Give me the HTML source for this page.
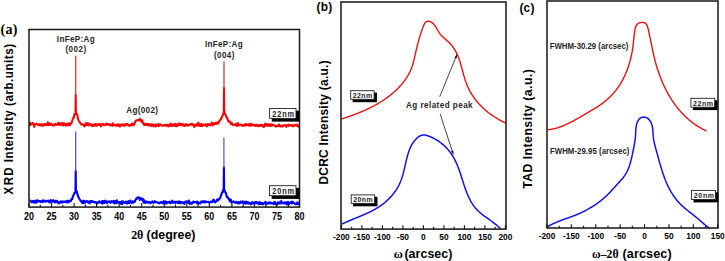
<!DOCTYPE html>
<html><head><meta charset="utf-8"><title>figure</title>
<style>
html,body{margin:0;padding:0;background:#fff;}
body{width:725px;height:261px;overflow:hidden;font-family:"Liberation Sans",sans-serif;}
svg{display:block;}
</style></head><body>
<svg width="725" height="261" viewBox="0 0 725 261">
<rect width="725" height="261" fill="#fff"/>
<polyline points="29.8,125.93 30.3,122.49 30.8,124.72 31.3,123.98 31.8,124.07 32.3,124.25 32.8,122.9 33.3,124.24 33.8,123.77 34.3,126.91 34.8,124.59 35.3,124.16 35.8,124.21 36.3,123.93 36.8,123.64 37.3,124.14 37.8,124.79 38.3,124.26 38.8,125.15 39.3,124.29 39.8,124.46 40.3,125.6 40.8,124.85 41.3,124.07 41.8,124.31 42.3,124.86 42.8,125.9 43.3,124.25 43.8,124.27 44.3,125.21 44.8,123.8 45.3,124.24 45.8,125.13 46.3,124.9 46.8,124.54 47.3,124.97 47.8,122.35 48.3,125.24 48.8,123.76 49.3,123.23 49.8,124.69 50.3,125.01 50.8,124.15 51.3,123.68 51.8,124.51 52.3,124.45 52.8,125.55 53.3,125.06 53.8,124.64 54.3,125.33 54.8,124.35 55.3,123.81 55.8,124.94 56.3,124.94 56.8,124.35 57.3,123.92 57.8,124.68 58.3,122.64 58.8,125.03 59.3,124.89 59.8,123.29 60.3,124.57 60.8,123.8 61.3,125.09 61.8,123 62.3,123.84 62.8,125.06 63.3,125.4 63.8,122.92 64.3,124.17 64.8,124.79 65.3,124.09 65.8,125.74 66.3,123.65 66.8,124.81 67.3,123.75 67.8,125.58 68.3,124.48 68.8,124.16 69.3,123.04 69.8,125.41 70.3,124.43 70.8,123.99 71.3,123.66 71.8,122.22 72.3,120.4 72.8,119 73.3,117.59 73.8,117.78 74.3,114.34 74.8,113.94 75.3,113.51 75.45,113.76 75.7,95 75.95,113.76 76.3,114.39 76.8,113.84 77.3,114.66 77.8,117.34 78.3,119.7 78.8,120.73 79.3,121.53 79.8,122.12 80.3,123.33 80.8,123.48 81.3,124.65 81.8,123.69 82.3,124.53 82.8,124.44 83.3,124.98 83.8,124.76 84.3,126.52 84.8,125.74 85.3,125.74 85.8,123.09 86.3,124.37 86.8,124.17 87.3,125.03 87.8,122.92 88.3,125.52 88.8,125.44 89.3,123.66 89.8,123.91 90.3,124.04 90.8,124.68 91.3,125.13 91.8,126.18 92.3,124.5 92.8,125.23 93.3,124.77 93.8,125.98 94.3,125.21 94.8,125.69 95.3,123.85 95.8,124.52 96.3,124.06 96.8,125.8 97.3,125.16 97.8,124.44 98.3,124.33 98.8,125.04 99.3,124.15 99.8,123.98 100.3,125.04 100.8,126.53 101.3,124.5 101.8,124.27 102.3,123.81 102.8,123.69 103.3,125.09 103.8,125.33 104.3,124.7 104.8,124.95 105.3,124.79 105.8,124.81 106.3,123.56 106.8,124.36 107.3,124.79 107.8,124.12 108.3,124.36 108.8,124.1 109.3,124.47 109.8,125.36 110.3,124.42 110.8,124.61 111.3,125.34 111.8,125.21 112.3,126 112.8,123.16 113.3,125.38 113.8,124.37 114.3,124.84 114.8,125.37 115.3,125.55 115.8,125.52 116.3,124.86 116.8,125.95 117.3,124.54 117.8,124.64 118.3,125.35 118.8,124.34 119.3,126.38 119.8,125.52 120.3,126.39 120.8,124.74 121.3,124.48 121.8,124.89 122.3,125.32 122.8,124.33 123.3,125.06 123.8,124.76 124.3,125.99 124.8,124.28 125.3,125.56 125.8,124.3 126.3,124.06 126.8,124.25 127.3,123.89 127.8,124.9 128.3,125.56 128.8,124.92 129.3,125.26 129.8,126.02 130.3,125 130.8,124.95 131.3,124.6 131.8,123.6 132.3,125.37 132.8,123.48 133.3,125.2 133.8,124.39 134.3,124.56 134.8,122.71 135.3,121.19 135.8,121.35 136.3,120.22 136.8,120.3 137.3,120.38 137.8,120.23 138.3,120.19 138.8,119.71 139.3,120.19 139.8,118.73 140.3,120.24 140.8,119.55 141.3,121.5 141.8,122.06 142.3,120.37 142.8,122.9 143.3,123.65 143.8,123.65 144.3,125.15 144.8,124.49 145.3,123.53 145.8,124.65 146.3,124.75 146.8,124.94 147.3,123.94 147.8,125.32 148.3,125.42 148.8,124.01 149.3,124.37 149.8,124.81 150.3,124.45 150.8,126.18 151.3,125.03 151.8,124.12 152.3,124.29 152.8,124.84 153.3,126.6 153.8,124.75 154.3,124.98 154.8,125.27 155.3,124.86 155.8,126.6 156.3,124.49 156.8,125.45 157.3,125.01 157.8,125.36 158.3,124.01 158.8,126.22 159.3,124.81 159.8,124.93 160.3,124.2 160.8,124.36 161.3,125.33 161.8,125.65 162.3,125.47 162.8,125.82 163.3,125.45 163.8,124.94 164.3,125.54 164.8,125.36 165.3,124.84 165.8,125.46 166.3,125.89 166.8,125.1 167.3,124.66 167.8,125.46 168.3,126.35 168.8,124.77 169.3,124.86 169.8,124.83 170.3,125.85 170.8,123.55 171.3,125.21 171.8,125.83 172.3,124.33 172.8,126.05 173.3,125.34 173.8,124.53 174.3,125.09 174.8,123.79 175.3,124.52 175.8,126.31 176.3,124.27 176.8,126.33 177.3,124.89 177.8,125.69 178.3,124.98 178.8,123.27 179.3,124.52 179.8,125.09 180.3,124.09 180.8,123.94 181.3,125.23 181.8,124.46 182.3,123.68 182.8,124.44 183.3,125.6 183.8,124.6 184.3,125.65 184.8,126.1 185.3,124.98 185.8,124.11 186.3,123.98 186.8,124.93 187.3,125.61 187.8,125.15 188.3,125.36 188.8,124.62 189.3,125.17 189.8,124.6 190.3,124.7 190.8,123.98 191.3,123.77 191.8,124.58 192.3,124.11 192.8,124.22 193.3,125.44 193.8,124.86 194.3,127.12 194.8,125.63 195.3,124.45 195.8,125.51 196.3,125.19 196.8,124.4 197.3,125.74 197.8,124.33 198.3,122.61 198.8,125.49 199.3,124.43 199.8,126 200.3,124.39 200.8,123.99 201.3,126.03 201.8,124.05 202.3,125 202.8,125.92 203.3,124.91 203.8,124.75 204.3,124.88 204.8,125.42 205.3,124.17 205.8,125.21 206.3,125.17 206.8,126.47 207.3,124.44 207.8,123.99 208.3,125.2 208.8,124.32 209.3,124.8 209.8,124.65 210.3,125.39 210.8,123.98 211.3,124.35 211.8,122.45 212.3,123.64 212.8,125.39 213.3,123.65 213.8,123.55 214.3,123.06 214.8,124.29 215.3,123.86 215.8,122.68 216.3,123.89 216.8,123.37 217.3,123.49 217.8,122.15 218.3,123.58 218.8,122.17 219.3,121.26 219.8,120.34 220.3,119.8 220.8,119.73 221.3,117.82 221.8,117.61 222.3,115.9 222.8,115.14 223.3,113.61 223.8,112.27 223.75,110.82 224,88 224.25,110.82 224.8,113.05 225.3,114.48 225.8,115.33 226.3,116.97 226.8,117.46 227.3,118.63 227.8,119.14 228.3,121.65 228.8,121.39 229.3,121.44 229.8,121.25 230.3,122.5 230.8,124.01 231.3,123.54 231.8,122.87 232.3,124.67 232.8,124.84 233.3,124.64 233.8,124.62 234.3,125 234.8,124.64 235.3,124.9 235.8,123.8 236.3,125.58 236.8,124.69 237.3,126.09 237.8,123.08 238.3,125.19 238.8,125.44 239.3,124.48 239.8,125.11 240.3,125.36 240.8,125.26 241.3,124.45 241.8,124.77 242.3,125.67 242.8,125.88 243.3,125.02 243.8,125.02 244.3,125.13 244.8,125.77 245.3,124.22 245.8,124.02 246.3,125.13 246.8,124.22 247.3,124.62 247.8,125.14 248.3,125.44 248.8,124.29 249.3,125.7 249.8,123.78 250.3,125.53 250.8,123.95 251.3,124.18 251.8,125.63 252.3,124.85 252.8,124.56 253.3,124.83 253.8,125.52 254.3,125.14 254.8,125.16 255.3,125.98 255.8,124.66 256.3,124.85 256.8,124.82 257.3,126.09 257.8,125.96 258.3,126.19 258.8,125.21 259.3,125.12 259.8,125.88 260.3,124.95 260.8,125.87 261.3,125.8 261.8,124.74 262.3,125.2 262.8,125.18 263.3,126.57 263.8,127.22 264.3,125.21 264.8,125.29 265.3,123.58 265.8,125.45 266.3,125.29 266.8,124.49 267.3,125.89 267.8,124.13 268.3,125.15 268.8,125.42 269.3,124.38 269.8,125.96 270.3,126.11 270.8,124.29 271.3,124.27 271.8,125.78 272.3,125.31 272.8,124.43 273.3,125.12 273.8,125.26 274.3,125.24 274.8,125.97 275.3,125.64 275.8,126.68 276.3,126.39 276.8,125.87 277.3,126.17 277.8,126.36 278.3,125.9 278.8,124.45 279.3,126.02 279.8,125.43 280.3,126.6 280.8,125.46 281.3,125.78 281.8,125.64 282.3,126.65 282.8,125.53 283.3,125.2 283.8,125.63 284.3,125.07 284.8,125.53 285.3,125.4 285.8,125.62 286.3,126.86 286.8,125.11 287.3,125.45 287.8,125.27 288.3,125.93 288.8,124.54 289.3,124.91 289.8,125.4 290.3,125.84 290.8,125.4 291.3,125.06 291.8,124.79 292.3,125.83 292.8,126.53 293.3,125.69 293.8,125.59 294.3,125.79 294.8,124.75 295.3,125.22 295.8,125.26 296.3,125.68 296.8,125.44 297.3,124.56 297.8,126.31 298.3,126.74 298.8,125.28" fill="none" stroke="#ff0000" stroke-width="2.0" stroke-linejoin="round"/>
<polyline points="29.8,200.9 30.3,200.51 30.8,201.32 31.3,201.83 31.8,202.37 32.3,201.6 32.8,201.11 33.3,200.94 33.8,202.09 34.3,202.76 34.8,201.74 35.3,200.61 35.8,200.82 36.3,202.75 36.8,201.7 37.3,200.25 37.8,201.49 38.3,200.69 38.8,201.09 39.3,201.2 39.8,201.03 40.3,201.99 40.8,201.53 41.3,201.14 41.8,201.89 42.3,202.21 42.8,200.36 43.3,201.4 43.8,200.86 44.3,201.47 44.8,200.63 45.3,201.62 45.8,201.58 46.3,201.38 46.8,200.83 47.3,201.32 47.8,200.8 48.3,200.61 48.8,201.8 49.3,200.8 49.8,202.51 50.3,202.18 50.8,200.14 51.3,201.85 51.8,200.82 52.3,201.68 52.8,201.69 53.3,200.17 53.8,201.49 54.3,201.47 54.8,202.39 55.3,200.78 55.8,202.23 56.3,200.85 56.8,201.43 57.3,201.05 57.8,202.77 58.3,202.12 58.8,203.52 59.3,202.18 59.8,202.33 60.3,202.33 60.8,201.25 61.3,201.66 61.8,202.73 62.3,201.42 62.8,201.86 63.3,201.71 63.8,202.18 64.3,201.46 64.8,201.62 65.3,201.92 65.8,201.82 66.3,201.09 66.8,202.42 67.3,200.77 67.8,200.84 68.3,200.76 68.8,202.41 69.3,201.34 69.8,200.76 70.3,200.41 70.8,201.23 71.3,199.59 71.8,198.69 72.3,199.12 72.8,196.57 73.3,195.87 73.8,194.69 74.3,193.05 74.8,192.29 75.3,192.68 75.45,191.13 75.7,171 75.95,191.13 76.3,190.94 76.8,191.35 77.3,193.76 77.8,195.02 78.3,196.9 78.8,197.66 79.3,198.77 79.8,199.48 80.3,200.29 80.8,201.26 81.3,201.15 81.8,201.7 82.3,203.16 82.8,202.15 83.3,200.65 83.8,203.15 84.3,202.12 84.8,201.16 85.3,202.55 85.8,201.88 86.3,201.41 86.8,201.4 87.3,201.14 87.8,201.92 88.3,202.69 88.8,201.65 89.3,202.21 89.8,203.3 90.3,200.99 90.8,202.1 91.3,201.68 91.8,201.12 92.3,201.14 92.8,201.91 93.3,202.25 93.8,201.53 94.3,201.97 94.8,202.47 95.3,202.16 95.8,202.59 96.3,202.29 96.8,202.31 97.3,203.32 97.8,202.42 98.3,202.05 98.8,202.49 99.3,201.27 99.8,201.71 100.3,202.56 100.8,202.44 101.3,203.13 101.8,201.98 102.3,200.88 102.8,203.44 103.3,202.81 103.8,201.2 104.3,203.02 104.8,202.02 105.3,200.64 105.8,201.69 106.3,201.62 106.8,203.2 107.3,201.42 107.8,201.83 108.3,201.81 108.8,201.74 109.3,201.34 109.8,202.19 110.3,202.84 110.8,202.5 111.3,201.34 111.8,201.18 112.3,202.13 112.8,201.52 113.3,201.58 113.8,200.79 114.3,203.52 114.8,202.75 115.3,201.33 115.8,202.75 116.3,203.08 116.8,200.28 117.3,201.67 117.8,201.79 118.3,202.57 118.8,202 119.3,201.92 119.8,202.05 120.3,203.49 120.8,203.72 121.3,201.71 121.8,201.41 122.3,204.13 122.8,201.38 123.3,201.69 123.8,202.15 124.3,202.48 124.8,202.9 125.3,202.42 125.8,201.48 126.3,202.51 126.8,202.33 127.3,203.55 127.8,202.13 128.3,201.14 128.8,201.37 129.3,203.24 129.8,201.75 130.3,200.58 130.8,201.73 131.3,202.17 131.8,203.06 132.3,201.41 132.8,202.67 133.3,202.72 133.8,201.36 134.3,201.15 134.8,201.7 135.3,200.69 135.8,199.27 136.3,198.4 136.8,198.77 137.3,197.73 137.8,197.74 138.3,197.17 138.8,197.82 139.3,197.76 139.8,199.9 140.3,197.71 140.8,198.9 141.3,199.18 141.8,198.53 142.3,200.32 142.8,198.79 143.3,201.42 143.8,202.59 144.3,200.39 144.8,201.38 145.3,203.05 145.8,202.06 146.3,201.44 146.8,201.98 147.3,201.86 147.8,202.81 148.3,202.61 148.8,202.07 149.3,201.78 149.8,202.24 150.3,203.28 150.8,202.55 151.3,202.77 151.8,202.18 152.3,201.33 152.8,201.77 153.3,202.79 153.8,202.38 154.3,201.63 154.8,201.1 155.3,202.4 155.8,202.06 156.3,202.06 156.8,202.08 157.3,202.54 157.8,202.55 158.3,203.05 158.8,203.03 159.3,203.34 159.8,202.95 160.3,202.09 160.8,202.31 161.3,202.72 161.8,202.12 162.3,202.77 162.8,203.22 163.3,201.76 163.8,201.04 164.3,203.26 164.8,202.38 165.3,202.9 165.8,201.38 166.3,203.68 166.8,202.93 167.3,202.29 167.8,202.12 168.3,202.47 168.8,202.27 169.3,202.18 169.8,201.56 170.3,203.35 170.8,202.37 171.3,202.46 171.8,202.48 172.3,200.64 172.8,202.81 173.3,202.17 173.8,202.2 174.3,202.47 174.8,201.69 175.3,203.05 175.8,201.9 176.3,201.75 176.8,201.78 177.3,202.55 177.8,202.99 178.3,201.99 178.8,201.3 179.3,203.24 179.8,201.64 180.3,203.34 180.8,202.4 181.3,201.92 181.8,201.97 182.3,202.8 182.8,203.12 183.3,202.3 183.8,203.17 184.3,204.02 184.8,202.3 185.3,201.6 185.8,201.67 186.3,201.42 186.8,201.98 187.3,201.92 187.8,201.47 188.3,202.86 188.8,200.51 189.3,201.48 189.8,203.98 190.3,203.24 190.8,202.86 191.3,202.81 191.8,203.79 192.3,202.87 192.8,202.52 193.3,201.54 193.8,202.41 194.3,201.91 194.8,201.93 195.3,201.92 195.8,202.42 196.3,202.21 196.8,203.11 197.3,201.46 197.8,202.32 198.3,203.84 198.8,202.47 199.3,203.33 199.8,203.28 200.3,203.41 200.8,202.97 201.3,201.38 201.8,202.21 202.3,202.11 202.8,201.23 203.3,202.03 203.8,201.43 204.3,201.11 204.8,202.5 205.3,202.3 205.8,201.8 206.3,201.59 206.8,201.87 207.3,201.96 207.8,201.93 208.3,202.17 208.8,201.86 209.3,202.44 209.8,202.51 210.3,202.35 210.8,201.54 211.3,201.53 211.8,202.26 212.3,201.73 212.8,201.77 213.3,199.86 213.8,199.61 214.3,201.78 214.8,201.66 215.3,202.32 215.8,201.66 216.3,201.09 216.8,200.72 217.3,199.37 217.8,200.79 218.3,199.3 218.8,199.67 219.3,198.89 219.8,198.27 220.3,197.91 220.8,195.88 221.3,194.78 221.8,193.08 222.3,191.99 222.8,192.14 223.3,189.54 223.8,190.2 223.65,190.15 223.9,167 224.15,190.15 224.8,190.96 225.3,192.32 225.8,192.41 226.3,194.86 226.8,197.03 227.3,196.39 227.8,197.77 228.3,198.03 228.8,199.39 229.3,198.84 229.8,201.27 230.3,200.12 230.8,199.54 231.3,202.28 231.8,201.88 232.3,201.71 232.8,201.88 233.3,201.34 233.8,201.56 234.3,202.37 234.8,202.61 235.3,202.7 235.8,202.23 236.3,201.78 236.8,202.05 237.3,203.07 237.8,203.37 238.3,202.08 238.8,202.01 239.3,203.34 239.8,202.98 240.3,202.99 240.8,201.51 241.3,202.24 241.8,202.16 242.3,202.73 242.8,201.33 243.3,203.56 243.8,202.85 244.3,202.97 244.8,201.78 245.3,202.66 245.8,203.69 246.3,201.53 246.8,202.95 247.3,203.26 247.8,202.23 248.3,203.37 248.8,202.52 249.3,203.7 249.8,203.19 250.3,202.97 250.8,204.32 251.3,203.44 251.8,203.81 252.3,201.94 252.8,202.36 253.3,203.48 253.8,203.54 254.3,202.83 254.8,203.46 255.3,202.09 255.8,203.05 256.3,202.04 256.8,203.16 257.3,202.55 257.8,202.44 258.3,202.97 258.8,204.29 259.3,202.18 259.8,202.49 260.3,203.75 260.8,202.64 261.3,204.29 261.8,203.13 262.3,203.04 262.8,203.24 263.3,204.29 263.8,203.48 264.3,203.38 264.8,203.19 265.3,201.83 265.8,202.34 266.3,204.12 266.8,203.63 267.3,203.4 267.8,203.5 268.3,202.62 268.8,203.29 269.3,202.36 269.8,203.34 270.3,202.51 270.8,202.89 271.3,203.4 271.8,202.82 272.3,203.55 272.8,203.41 273.3,203.35 273.8,204.07 274.3,201.98 274.8,201.89 275.3,203.56 275.8,203.8 276.3,204.61 276.8,203.67 277.3,203.73 277.8,202.45 278.3,203.68 278.8,203.63 279.3,202.33 279.8,202.46 280.3,203.05 280.8,203.35 281.3,200.93 281.8,203.2 282.3,203.32 282.8,203.02 283.3,203.36 283.8,203.5 284.3,202.41 284.8,203.48 285.3,202.98 285.8,202.47 286.3,203.34 286.8,204.3 287.3,202.09 287.8,201.95 288.3,201.96 288.8,204.68 289.3,203.02 289.8,203.16 290.3,202.62 290.8,202.51 291.3,201.7 291.8,203.35 292.3,203.42 292.8,201.75 293.3,202.45 293.8,202.68 294.3,203.22 294.8,203.43 295.3,204.09 295.8,204.28 296.3,204.06 296.8,204.27 297.3,202.39 297.8,202.85 298.3,204.13 298.8,203.49" fill="none" stroke="#0000ff" stroke-width="2.1" stroke-linejoin="round"/>
<line x1="75.7" y1="96" x2="75.7" y2="55.8" stroke="#f01818" stroke-width="1.15"/>
<line x1="224" y1="89" x2="224" y2="61.5" stroke="#d82020" stroke-width="1.15"/>
<line x1="75.7" y1="172" x2="75.7" y2="131.5" stroke="#3a3ae8" stroke-width="1.15"/>
<line x1="223.9" y1="168" x2="223.9" y2="137.4" stroke="#5050d0" stroke-width="1.15"/>
<rect x="29" y="29.5" width="270.5" height="177.6" fill="none" stroke="#1a1a1a" stroke-width="1.5"/>
<line x1="29" y1="207.1" x2="29" y2="202.9" stroke="#111" stroke-width="1.1"/>
<line x1="40.27" y1="207.1" x2="40.27" y2="204.7" stroke="#111" stroke-width="1.1"/>
<line x1="51.54" y1="207.1" x2="51.54" y2="202.9" stroke="#111" stroke-width="1.1"/>
<line x1="62.81" y1="207.1" x2="62.81" y2="204.7" stroke="#111" stroke-width="1.1"/>
<line x1="74.08" y1="207.1" x2="74.08" y2="202.9" stroke="#111" stroke-width="1.1"/>
<line x1="85.35" y1="207.1" x2="85.35" y2="204.7" stroke="#111" stroke-width="1.1"/>
<line x1="96.62" y1="207.1" x2="96.62" y2="202.9" stroke="#111" stroke-width="1.1"/>
<line x1="107.9" y1="207.1" x2="107.9" y2="204.7" stroke="#111" stroke-width="1.1"/>
<line x1="119.17" y1="207.1" x2="119.17" y2="202.9" stroke="#111" stroke-width="1.1"/>
<line x1="130.44" y1="207.1" x2="130.44" y2="204.7" stroke="#111" stroke-width="1.1"/>
<line x1="141.71" y1="207.1" x2="141.71" y2="202.9" stroke="#111" stroke-width="1.1"/>
<line x1="152.98" y1="207.1" x2="152.98" y2="204.7" stroke="#111" stroke-width="1.1"/>
<line x1="164.25" y1="207.1" x2="164.25" y2="202.9" stroke="#111" stroke-width="1.1"/>
<line x1="175.52" y1="207.1" x2="175.52" y2="204.7" stroke="#111" stroke-width="1.1"/>
<line x1="186.79" y1="207.1" x2="186.79" y2="202.9" stroke="#111" stroke-width="1.1"/>
<line x1="198.06" y1="207.1" x2="198.06" y2="204.7" stroke="#111" stroke-width="1.1"/>
<line x1="209.33" y1="207.1" x2="209.33" y2="202.9" stroke="#111" stroke-width="1.1"/>
<line x1="220.6" y1="207.1" x2="220.6" y2="204.7" stroke="#111" stroke-width="1.1"/>
<line x1="231.88" y1="207.1" x2="231.88" y2="202.9" stroke="#111" stroke-width="1.1"/>
<line x1="243.15" y1="207.1" x2="243.15" y2="204.7" stroke="#111" stroke-width="1.1"/>
<line x1="254.42" y1="207.1" x2="254.42" y2="202.9" stroke="#111" stroke-width="1.1"/>
<line x1="265.69" y1="207.1" x2="265.69" y2="204.7" stroke="#111" stroke-width="1.1"/>
<line x1="276.96" y1="207.1" x2="276.96" y2="202.9" stroke="#111" stroke-width="1.1"/>
<line x1="288.23" y1="207.1" x2="288.23" y2="204.7" stroke="#111" stroke-width="1.1"/>
<line x1="299.5" y1="207.1" x2="299.5" y2="202.9" stroke="#111" stroke-width="1.1"/>
<text transform="translate(29,219.5) scale(0.89,1)" x="0" y="0" font-family="'Liberation Sans', sans-serif" font-size="10.05" font-weight="bold" text-anchor="middle" fill="#000">20</text>
<text transform="translate(51.54,219.5) scale(0.89,1)" x="0" y="0" font-family="'Liberation Sans', sans-serif" font-size="10.05" font-weight="bold" text-anchor="middle" fill="#000">25</text>
<text transform="translate(74.08,219.5) scale(0.89,1)" x="0" y="0" font-family="'Liberation Sans', sans-serif" font-size="10.05" font-weight="bold" text-anchor="middle" fill="#000">30</text>
<text transform="translate(96.62,219.5) scale(0.89,1)" x="0" y="0" font-family="'Liberation Sans', sans-serif" font-size="10.05" font-weight="bold" text-anchor="middle" fill="#000">35</text>
<text transform="translate(119.17,219.5) scale(0.89,1)" x="0" y="0" font-family="'Liberation Sans', sans-serif" font-size="10.05" font-weight="bold" text-anchor="middle" fill="#000">40</text>
<text transform="translate(141.71,219.5) scale(0.89,1)" x="0" y="0" font-family="'Liberation Sans', sans-serif" font-size="10.05" font-weight="bold" text-anchor="middle" fill="#000">45</text>
<text transform="translate(164.25,219.5) scale(0.89,1)" x="0" y="0" font-family="'Liberation Sans', sans-serif" font-size="10.05" font-weight="bold" text-anchor="middle" fill="#000">50</text>
<text transform="translate(186.79,219.5) scale(0.89,1)" x="0" y="0" font-family="'Liberation Sans', sans-serif" font-size="10.05" font-weight="bold" text-anchor="middle" fill="#000">55</text>
<text transform="translate(209.33,219.5) scale(0.89,1)" x="0" y="0" font-family="'Liberation Sans', sans-serif" font-size="10.05" font-weight="bold" text-anchor="middle" fill="#000">60</text>
<text transform="translate(231.88,219.5) scale(0.89,1)" x="0" y="0" font-family="'Liberation Sans', sans-serif" font-size="10.05" font-weight="bold" text-anchor="middle" fill="#000">65</text>
<text transform="translate(254.42,219.5) scale(0.89,1)" x="0" y="0" font-family="'Liberation Sans', sans-serif" font-size="10.05" font-weight="bold" text-anchor="middle" fill="#000">70</text>
<text transform="translate(276.96,219.5) scale(0.89,1)" x="0" y="0" font-family="'Liberation Sans', sans-serif" font-size="10.05" font-weight="bold" text-anchor="middle" fill="#000">75</text>
<text transform="translate(299.5,219.5) scale(0.89,1)" x="0" y="0" font-family="'Liberation Sans', sans-serif" font-size="10.05" font-weight="bold" text-anchor="middle" fill="#000">80</text>
<text transform="translate(75.75,42.4) scale(0.88,1)" x="0" y="0" font-family="'Liberation Sans', sans-serif" font-size="9.2" font-weight="bold" text-anchor="middle" fill="#262626" textLength="43.07" lengthAdjust="spacing">InFeP:Ag</text>
<text transform="translate(75.75,52.2) scale(0.88,1)" x="0" y="0" font-family="'Liberation Sans', sans-serif" font-size="9.2" font-weight="bold" text-anchor="middle" fill="#262626" textLength="23.52" lengthAdjust="spacing">(002)</text>
<text transform="translate(223.8,47) scale(0.88,1)" x="0" y="0" font-family="'Liberation Sans', sans-serif" font-size="9.2" font-weight="bold" text-anchor="middle" fill="#262626" textLength="42.95" lengthAdjust="spacing">InFeP:Ag</text>
<text transform="translate(224.2,57.5) scale(0.88,1)" x="0" y="0" font-family="'Liberation Sans', sans-serif" font-size="9.2" font-weight="bold" text-anchor="middle" fill="#262626" textLength="23.18" lengthAdjust="spacing">(004)</text>
<text transform="translate(142.1,113.4) scale(0.88,1)" x="0" y="0" font-family="'Liberation Sans', sans-serif" font-size="9.2" font-weight="bold" text-anchor="middle" fill="#262626" textLength="35.91" lengthAdjust="spacing">Ag(002)</text>
<rect x="271.8" y="110.7" width="27.4" height="10.9" fill="#000"/>
<rect x="269.6" y="108.5" width="26.4" height="9.9" fill="#fff" stroke="#222" stroke-width="0.9"/>
<text transform="translate(272.3,116.6) scale(0.87,1)" x="0" y="0" font-family="'Liberation Sans', sans-serif" font-size="8.5" font-weight="bold" text-anchor="start" fill="#262626" textLength="25.06" lengthAdjust="spacing">22nm</text>
<rect x="271.7" y="187.9" width="27.5" height="11" fill="#000"/>
<rect x="269.5" y="185.7" width="26.5" height="10" fill="#fff" stroke="#222" stroke-width="0.9"/>
<text transform="translate(272.3,193.8) scale(0.87,1)" x="0" y="0" font-family="'Liberation Sans', sans-serif" font-size="8.5" font-weight="bold" text-anchor="start" fill="#262626" textLength="25.06" lengthAdjust="spacing">20nm</text>
<text x="0.6" y="34.2" font-family="'Liberation Serif', serif" font-size="14" font-weight="bold" text-anchor="start" fill="#000" textLength="16.9" lengthAdjust="spacing">(a)</text>
<text transform="translate(13.3,119.2) rotate(-90) scale(0.93,1)" x="0" y="0" font-family="'Liberation Sans', sans-serif" font-size="12.4" font-weight="bold" text-anchor="middle" textLength="161.83" lengthAdjust="spacing"><tspan letter-spacing="0.9">XRD</tspan> Intensity (arb.units)</text>
<text x="131.3" y="239.1" font-family="'Liberation Serif', serif" font-size="12" font-weight="bold" text-anchor="start" fill="#000" textLength="11.9" lengthAdjust="spacing">2θ</text>
<text x="146.6" y="239.1" font-family="'Liberation Sans', sans-serif" font-size="12.4" font-weight="bold" text-anchor="start" fill="#000" textLength="48.8" lengthAdjust="spacing">(degree)</text>
<polyline points="341.81,118.88 342.23,118.75 342.66,118.61 343.09,118.47 343.51,118.33 343.94,118.19 344.37,118.05 344.79,117.91 345.22,117.77 345.65,117.63 346.07,117.49 346.5,117.34 346.93,117.2 347.36,117.05 347.78,116.91 348.21,116.76 348.64,116.61 349.07,116.46 349.49,116.31 349.92,116.16 350.35,116.01 350.78,115.86 351.21,115.7 351.63,115.55 352.06,115.4 352.49,115.24 352.92,115.08 353.34,114.92 353.77,114.77 354.2,114.61 354.62,114.45 355.05,114.28 355.48,114.12 355.9,113.96 356.33,113.79 356.76,113.63 357.18,113.46 357.61,113.29 358.03,113.12 358.46,112.95 358.88,112.78 359.31,112.61 359.73,112.44 360.15,112.27 360.58,112.09 361,111.91 361.42,111.74 361.84,111.56 362.27,111.38 362.69,111.2 363.11,111.02 363.53,110.83 363.95,110.65 364.37,110.46 364.79,110.28 365.2,110.09 365.62,109.9 366.04,109.71 366.46,109.52 366.87,109.33 367.29,109.14 367.7,108.94 368.12,108.74 368.53,108.55 368.94,108.35 369.36,108.15 369.77,107.95 370.18,107.75 370.59,107.54 371,107.34 371.41,107.13 371.82,106.92 372.22,106.71 372.63,106.5 373.04,106.29 373.44,106.08 373.85,105.87 374.25,105.65 374.65,105.43 375.05,105.22 375.45,105 375.85,104.77 376.25,104.55 376.65,104.33 377.05,104.1 377.44,103.88 377.84,103.65 378.23,103.42 378.63,103.19 379.02,102.95 379.41,102.72 379.8,102.49 380.19,102.25 380.58,102.01 380.97,101.77 381.35,101.53 381.74,101.29 382.12,101.04 382.5,100.79 382.88,100.55 383.26,100.3 383.64,100.05 384.02,99.79 384.4,99.54 384.77,99.29 385.15,99.03 385.52,98.77 385.89,98.51 386.26,98.25 386.63,97.98 387,97.72 387.37,97.45 387.73,97.18 388.1,96.91 388.46,96.64 388.82,96.37 389.18,96.09 389.54,95.81 389.89,95.54 390.25,95.26 390.6,94.97 390.96,94.69 391.31,94.4 391.66,94.12 392.01,93.83 392.35,93.54 392.7,93.24 393.04,92.95 393.38,92.65 393.72,92.35 394.06,92.05 394.4,91.75 394.73,91.45 395.07,91.14 395.4,90.84 395.73,90.53 396.06,90.22 396.39,89.9 396.71,89.59 397.03,89.27 397.36,88.95 397.68,88.63 397.99,88.31 398.31,87.99 398.63,87.66 398.94,87.33 399.25,87 399.56,86.67 399.87,86.34 400.17,86 400.48,85.66 400.78,85.32 401.08,84.98 401.38,84.64 401.67,84.29 401.97,83.94 402.26,83.59 402.55,83.24 402.83,82.89 403.12,82.53 403.4,82.18 403.68,81.82 403.96,81.45 404.24,81.09 404.51,80.72 404.78,80.36 405.05,79.99 405.31,79.62 405.57,79.24 405.83,78.87 406.09,78.49 406.34,78.11 406.59,77.73 406.84,77.35 407.08,76.96 407.32,76.57 407.56,76.19 407.8,75.79 408.03,75.4 408.25,75.01 408.48,74.61 408.7,74.21 408.92,73.81 409.13,73.41 409.34,73.01 409.55,72.6 409.75,72.19 409.95,71.78 410.15,71.37 410.34,70.96 410.52,70.54 410.71,70.13 410.89,69.71 411.06,69.29 411.23,68.86 411.4,68.44 411.56,68.01 411.72,67.58 411.87,67.15 412.02,66.72 412.17,66.29 412.31,65.85 412.45,65.42 412.59,64.98 412.72,64.54 412.85,64.1 412.98,63.66 413.1,63.22 413.22,62.78 413.34,62.33 413.45,61.89 413.57,61.44 413.68,61 413.79,60.55 413.9,60.11 414.01,59.66 414.11,59.22 414.22,58.77 414.32,58.32 414.43,57.88 414.53,57.43 414.63,56.99 414.73,56.54 414.83,56.1 414.93,55.65 415.03,55.21 415.14,54.77 415.24,54.32 415.34,53.88 415.44,53.44 415.54,53 415.64,52.56 415.75,52.12 415.85,51.68 415.95,51.24 416.05,50.8 416.16,50.36 416.26,49.92 416.37,49.49 416.47,49.05 416.58,48.61 416.68,48.17 416.79,47.74 416.9,47.3 417,46.86 417.11,46.43 417.22,45.99 417.33,45.55 417.44,45.12 417.55,44.68 417.66,44.25 417.78,43.81 417.89,43.37 418.01,42.94 418.12,42.5 418.24,42.06 418.36,41.63 418.48,41.19 418.6,40.75 418.72,40.32 418.84,39.88 418.96,39.44 419.09,39.01 419.21,38.57 419.34,38.13 419.47,37.69 419.6,37.25 419.73,36.81 419.86,36.37 420,35.93 420.13,35.49 420.27,35.05 420.41,34.61 420.55,34.17 420.69,33.73 420.84,33.29 420.98,32.84 421.13,32.4 421.28,31.96 421.43,31.51 421.58,31.06 421.74,30.62 421.89,30.17 422.05,29.72 422.21,29.28 422.37,28.83 422.54,28.38 422.71,27.93 422.87,27.47 423.04,27.02 423.22,26.57 423.4,26.12 423.58,25.68 423.77,25.25 423.96,24.83 424.16,24.42 424.37,24.02 424.59,23.64 424.81,23.28 425.05,22.94 425.3,22.62 425.56,22.33 425.84,22.07 426.12,21.84 426.43,21.63 426.74,21.47 427.08,21.33 427.43,21.24 427.8,21.19 428.19,21.18 428.59,21.21 429.01,21.28 429.43,21.38 429.86,21.52 430.29,21.69 430.71,21.88 431.13,22.1 431.54,22.34 431.93,22.6 432.31,22.87 432.67,23.16 433.02,23.46 433.35,23.78 433.68,24.11 433.99,24.45 434.29,24.81 434.59,25.17 434.87,25.55 435.15,25.93 435.41,26.32 435.68,26.71 435.93,27.12 436.18,27.52 436.43,27.94 436.68,28.35 436.92,28.77 437.16,29.19 437.39,29.61 437.63,30.02 437.87,30.44 438.11,30.86 438.35,31.27 438.6,31.68 438.84,32.08 439.1,32.48 439.35,32.87 439.62,33.25 439.89,33.63 440.17,33.99 440.45,34.35 440.74,34.7 441.04,35.04 441.34,35.37 441.64,35.7 441.96,36.02 442.27,36.34 442.59,36.65 442.91,36.96 443.24,37.26 443.57,37.56 443.9,37.86 444.24,38.15 444.57,38.45 444.91,38.74 445.25,39.03 445.59,39.32 445.93,39.61 446.27,39.9 446.61,40.19 446.94,40.48 447.28,40.77 447.61,41.07 447.95,41.37 448.28,41.67 448.6,41.98 448.93,42.29 449.25,42.61 449.56,42.93 449.87,43.26 450.18,43.59 450.49,43.93 450.79,44.27 451.09,44.61 451.38,44.96 451.67,45.32 451.95,45.67 452.23,46.04 452.51,46.4 452.78,46.77 453.05,47.14 453.31,47.52 453.57,47.9 453.83,48.28 454.08,48.66 454.33,49.05 454.57,49.44 454.81,49.83 455.04,50.23 455.27,50.63 455.5,51.03 455.72,51.43 455.94,51.83 456.15,52.24 456.36,52.65 456.56,53.05 456.76,53.47 456.96,53.88 457.15,54.29 457.34,54.71 457.52,55.13 457.7,55.55 457.88,55.97 458.05,56.39 458.23,56.81 458.39,57.24 458.56,57.66 458.72,58.09 458.88,58.52 459.04,58.95 459.19,59.38 459.34,59.81 459.49,60.25 459.64,60.68 459.78,61.12 459.92,61.55 460.07,61.99 460.2,62.43 460.34,62.87 460.47,63.31 460.61,63.75 460.74,64.19 460.87,64.63 461,65.07 461.12,65.51 461.25,65.96 461.37,66.4 461.5,66.84 461.62,67.29 461.74,67.73 461.87,68.18 461.99,68.62 462.11,69.07 462.23,69.51 462.35,69.96 462.47,70.4 462.59,70.85 462.7,71.29 462.82,71.74 462.94,72.18 463.06,72.63 463.18,73.07 463.3,73.51 463.43,73.96 463.55,74.4 463.67,74.84 463.79,75.29 463.92,75.73 464.04,76.17 464.17,76.61 464.3,77.05 464.43,77.49 464.56,77.93 464.69,78.37 464.82,78.81 464.96,79.24 465.1,79.68 465.24,80.11 465.38,80.54 465.52,80.98 465.67,81.41 465.82,81.84 465.97,82.27 466.12,82.7 466.27,83.12 466.43,83.55 466.59,83.97 466.76,84.39 466.92,84.81 467.09,85.23 467.27,85.65 467.44,86.07 467.62,86.48 467.81,86.9 467.99,87.31 468.18,87.72 468.37,88.13 468.57,88.53 468.76,88.94 468.97,89.34 469.17,89.74 469.38,90.14 469.59,90.54 469.8,90.94 470.01,91.34 470.23,91.73 470.45,92.12 470.68,92.51 470.9,92.9 471.13,93.29 471.37,93.68 471.6,94.06 471.84,94.44 472.08,94.82 472.32,95.2 472.57,95.58 472.82,95.96 473.07,96.33 473.33,96.7 473.58,97.07 473.84,97.44 474.1,97.81 474.37,98.18 474.64,98.54 474.9,98.9 475.18,99.26 475.45,99.62 475.73,99.98 476.01,100.33 476.29,100.69 476.57,101.04 476.86,101.39 477.15,101.74 477.44,102.08 477.74,102.43 478.03,102.77 478.33,103.11 478.63,103.45 478.93,103.79 479.24,104.12 479.55,104.45 479.86,104.79 480.17,105.12 480.48,105.44 480.8,105.77 481.12,106.09 481.44,106.42 481.76,106.74 482.09,107.05 482.41,107.37 482.74,107.69 483.07,108 483.41,108.31 483.74,108.62 484.08,108.93 484.42,109.23 484.76,109.53 485.1,109.84 485.44,110.14 485.79,110.43 486.14,110.73 486.49,111.02 486.84,111.31 487.19,111.6 487.55,111.89 487.91,112.18 488.26,112.46 488.63,112.74 488.99,113.02 489.35,113.3 489.72,113.57 490.08,113.85 490.45,114.12 490.82,114.39 491.2,114.66 491.57,114.92 491.95,115.19 492.32,115.45 492.7,115.71 493.08,115.96 493.46,116.22 493.84,116.47 494.23,116.72 494.61,116.97 495,117.22 495.39,117.46 495.78,117.71 496.17,117.95 496.56,118.19 496.96,118.42 497.35,118.66 497.75,118.89 498.15,119.12 498.55,119.35 498.95,119.57 499.35,119.79 499.75,120.02 500.15,120.23 500.56,120.45 500.96,120.67 501.37,120.88 501.78,121.09 502.19,121.3 502.6,121.5 503.01,121.71 503.42,121.91 503.84,122.11 504.25,122.3 504.66,122.5 505.08,122.69 505.5,122.88" fill="none" stroke="#f01010" stroke-width="1.4" stroke-linejoin="round"/>
<polyline points="341.81,224.14 342.2,223.95 342.58,223.77 342.97,223.59 343.36,223.4 343.74,223.22 344.13,223.04 344.52,222.86 344.91,222.68 345.3,222.51 345.69,222.33 346.08,222.16 346.47,221.98 346.86,221.81 347.25,221.64 347.64,221.47 348.04,221.3 348.43,221.13 348.82,220.96 349.22,220.79 349.61,220.62 350,220.46 350.4,220.29 350.79,220.13 351.19,219.96 351.58,219.8 351.98,219.63 352.37,219.47 352.77,219.31 353.17,219.14 353.56,218.98 353.96,218.82 354.35,218.66 354.75,218.49 355.15,218.33 355.54,218.17 355.94,218.01 356.33,217.85 356.73,217.68 357.13,217.52 357.52,217.36 357.92,217.2 358.31,217.04 358.71,216.87 359.11,216.71 359.5,216.55 359.9,216.38 360.29,216.22 360.68,216.06 361.08,215.89 361.47,215.73 361.87,215.56 362.26,215.39 362.65,215.23 363.04,215.06 363.44,214.89 363.83,214.72 364.22,214.55 364.61,214.38 365,214.21 365.39,214.03 365.78,213.86 366.17,213.68 366.56,213.51 366.94,213.33 367.33,213.15 367.72,212.97 368.1,212.79 368.49,212.61 368.87,212.43 369.26,212.24 369.64,212.06 370.02,211.87 370.4,211.68 370.78,211.49 371.16,211.3 371.54,211.11 371.92,210.91 372.3,210.72 372.67,210.52 373.05,210.32 373.42,210.12 373.8,209.91 374.17,209.71 374.54,209.5 374.91,209.29 375.28,209.08 375.65,208.87 376.02,208.65 376.38,208.44 376.75,208.22 377.11,207.99 377.47,207.77 377.84,207.54 378.2,207.32 378.55,207.09 378.91,206.85 379.27,206.62 379.62,206.38 379.98,206.14 380.33,205.9 380.68,205.65 381.03,205.4 381.38,205.15 381.73,204.9 382.07,204.64 382.42,204.39 382.76,204.13 383.1,203.86 383.44,203.6 383.78,203.33 384.11,203.06 384.45,202.79 384.78,202.51 385.11,202.24 385.44,201.96 385.77,201.68 386.09,201.39 386.41,201.11 386.73,200.82 387.05,200.53 387.37,200.24 387.69,199.94 388,199.64 388.31,199.35 388.62,199.04 388.92,198.74 389.23,198.43 389.53,198.13 389.83,197.82 390.13,197.51 390.42,197.19 390.71,196.88 391,196.56 391.29,196.24 391.58,195.92 391.86,195.59 392.14,195.27 392.41,194.94 392.69,194.61 392.96,194.28 393.23,193.94 393.5,193.61 393.76,193.27 394.02,192.93 394.28,192.59 394.53,192.25 394.79,191.9 395.04,191.56 395.28,191.21 395.53,190.86 395.77,190.5 396,190.15 396.24,189.8 396.47,189.44 396.7,189.08 396.92,188.72 397.14,188.36 397.36,187.99 397.57,187.63 397.79,187.26 397.99,186.89 398.2,186.52 398.4,186.15 398.6,185.78 398.79,185.4 398.98,185.02 399.17,184.65 399.35,184.27 399.53,183.89 399.71,183.5 399.88,183.12 400.05,182.73 400.22,182.35 400.38,181.96 400.54,181.57 400.69,181.18 400.85,180.79 401,180.39 401.15,180 401.29,179.6 401.43,179.21 401.57,178.81 401.71,178.41 401.84,178.01 401.97,177.61 402.1,177.21 402.23,176.8 402.36,176.4 402.48,175.99 402.6,175.59 402.72,175.18 402.84,174.77 402.95,174.36 403.07,173.95 403.18,173.54 403.29,173.13 403.4,172.72 403.51,172.3 403.61,171.89 403.72,171.48 403.82,171.06 403.93,170.64 404.03,170.23 404.13,169.81 404.23,169.39 404.33,168.98 404.43,168.56 404.53,168.14 404.62,167.72 404.72,167.3 404.82,166.88 404.91,166.46 405.01,166.04 405.11,165.61 405.2,165.19 405.3,164.77 405.39,164.35 405.49,163.92 405.59,163.5 405.68,163.08 405.78,162.66 405.88,162.23 405.98,161.81 406.08,161.39 406.18,160.96 406.28,160.54 406.38,160.11 406.48,159.69 406.58,159.27 406.69,158.84 406.79,158.42 406.9,158 407.01,157.57 407.12,157.15 407.23,156.73 407.34,156.31 407.46,155.89 407.57,155.46 407.69,155.04 407.81,154.63 407.94,154.21 408.06,153.79 408.19,153.37 408.32,152.96 408.45,152.55 408.59,152.13 408.73,151.72 408.87,151.31 409.01,150.91 409.16,150.5 409.31,150.09 409.46,149.69 409.62,149.29 409.78,148.89 409.95,148.5 410.11,148.1 410.29,147.71 410.46,147.32 410.64,146.93 410.83,146.55 411.02,146.17 411.21,145.79 411.41,145.41 411.61,145.04 411.82,144.67 412.03,144.3 412.25,143.94 412.47,143.58 412.69,143.22 412.93,142.86 413.16,142.51 413.41,142.17 413.65,141.82 413.91,141.48 414.17,141.15 414.43,140.82 414.7,140.49 414.98,140.16 415.27,139.84 415.56,139.53 415.85,139.22 416.16,138.91 416.46,138.61 416.78,138.31 417.1,138.02 417.43,137.74 417.77,137.46 418.11,137.19 418.45,136.94 418.8,136.69 419.16,136.46 419.52,136.23 419.89,136.03 420.26,135.84 420.63,135.66 421.01,135.5 421.39,135.36 421.78,135.24 422.17,135.13 422.56,135.05 422.96,135 423.36,134.96 423.76,134.95 424.16,134.96 424.57,135 424.98,135.05 425.39,135.13 425.79,135.22 426.2,135.32 426.61,135.44 427.02,135.56 427.43,135.69 427.84,135.82 428.25,135.96 428.65,136.11 429.05,136.25 429.46,136.41 429.86,136.56 430.26,136.72 430.65,136.89 431.05,137.06 431.45,137.23 431.84,137.4 432.23,137.59 432.62,137.77 433.01,137.96 433.39,138.15 433.78,138.35 434.16,138.55 434.54,138.75 434.92,138.96 435.3,139.17 435.68,139.39 436.05,139.61 436.42,139.83 436.79,140.05 437.16,140.28 437.53,140.52 437.89,140.75 438.25,140.99 438.61,141.23 438.97,141.48 439.32,141.73 439.68,141.98 440.03,142.24 440.38,142.5 440.72,142.76 441.07,143.02 441.41,143.29 441.75,143.56 442.08,143.84 442.42,144.12 442.75,144.4 443.08,144.68 443.4,144.96 443.73,145.25 444.05,145.54 444.37,145.84 444.68,146.13 444.99,146.43 445.3,146.73 445.61,147.04 445.92,147.35 446.22,147.65 446.52,147.97 446.81,148.28 447.1,148.6 447.39,148.91 447.68,149.24 447.96,149.56 448.24,149.88 448.52,150.21 448.8,150.54 449.07,150.87 449.33,151.21 449.6,151.54 449.86,151.88 450.12,152.22 450.37,152.56 450.62,152.9 450.87,153.25 451.11,153.59 451.36,153.94 451.59,154.29 451.83,154.64 452.06,155 452.29,155.35 452.51,155.71 452.73,156.07 452.95,156.43 453.17,156.79 453.38,157.15 453.59,157.51 453.8,157.88 454,158.25 454.2,158.62 454.4,158.99 454.6,159.36 454.79,159.73 454.98,160.11 455.17,160.48 455.36,160.86 455.54,161.24 455.72,161.62 455.9,162 456.08,162.38 456.26,162.76 456.43,163.15 456.6,163.53 456.77,163.92 456.94,164.31 457.1,164.69 457.26,165.08 457.43,165.47 457.59,165.87 457.74,166.26 457.9,166.65 458.05,167.05 458.21,167.44 458.36,167.84 458.51,168.24 458.66,168.64 458.81,169.04 458.95,169.43 459.1,169.84 459.24,170.24 459.38,170.64 459.53,171.04 459.67,171.45 459.81,171.85 459.94,172.25 460.08,172.66 460.22,173.07 460.35,173.47 460.49,173.88 460.62,174.29 460.76,174.7 460.89,175.11 461.03,175.51 461.16,175.92 461.29,176.33 461.42,176.75 461.55,177.16 461.68,177.57 461.81,177.98 461.95,178.39 462.08,178.8 462.21,179.22 462.34,179.63 462.47,180.04 462.6,180.45 462.73,180.87 462.86,181.28 462.99,181.69 463.12,182.11 463.25,182.52 463.39,182.93 463.52,183.35 463.65,183.76 463.79,184.17 463.92,184.58 464.05,185 464.19,185.41 464.33,185.82 464.46,186.23 464.6,186.64 464.74,187.05 464.88,187.46 465.02,187.87 465.16,188.28 465.3,188.68 465.45,189.09 465.59,189.5 465.74,189.9 465.89,190.31 466.04,190.71 466.19,191.12 466.34,191.52 466.49,191.92 466.65,192.32 466.8,192.72 466.96,193.12 467.12,193.52 467.28,193.91 467.45,194.31 467.61,194.7 467.78,195.09 467.95,195.48 468.12,195.87 468.29,196.26 468.47,196.65 468.65,197.04 468.83,197.42 469.01,197.8 469.19,198.18 469.38,198.56 469.57,198.94 469.76,199.32 469.95,199.69 470.15,200.07 470.35,200.44 470.55,200.81 470.76,201.17 470.96,201.54 471.17,201.9 471.39,202.26 471.6,202.62 471.82,202.98 472.04,203.34 472.27,203.69 472.5,204.04 472.73,204.39 472.96,204.74 473.2,205.08 473.44,205.43 473.69,205.77 473.93,206.1 474.19,206.44 474.44,206.77 474.7,207.1 474.96,207.43 475.23,207.75 475.5,208.08 475.77,208.4 476.05,208.71 476.33,209.03 476.61,209.34 476.9,209.65 477.2,209.96 477.49,210.26 477.79,210.56 478.1,210.86 478.41,211.15 478.72,211.45 479.03,211.74 479.35,212.02 479.67,212.31 480,212.59 480.32,212.88 480.65,213.16 480.98,213.43 481.32,213.71 481.65,213.98 481.99,214.26 482.33,214.53 482.68,214.8 483.02,215.06 483.37,215.33 483.72,215.6 484.07,215.86 484.42,216.12 484.77,216.39 485.13,216.65 485.48,216.91 485.84,217.17 486.19,217.42 486.55,217.68 486.91,217.94 487.26,218.19 487.62,218.45 487.98,218.71 488.34,218.96 488.7,219.22 489.06,219.47 489.42,219.73 489.77,219.98 490.13,220.24 490.49,220.49 490.84,220.75 491.2,221 491.55,221.26 491.9,221.51 492.25,221.77 492.6,222.03 492.95,222.29 493.3,222.54 493.64,222.8 493.99,223.07 494.33,223.33 494.67,223.59 495.01,223.85 495.34,224.12 495.67,224.38 496,224.65 496.33,224.92 496.65,225.19 496.97,225.46 497.29,225.74 497.61,226.01 497.92,226.29 498.23,226.57 498.53,226.85 498.83,227.14 499.13,227.42 499.42,227.71 499.71,228 500,228.29 500.28,228.59 500.55,228.89" fill="none" stroke="#1010f0" stroke-width="1.5" stroke-linejoin="round"/>
<rect x="341" y="2" width="165" height="227.1" fill="none" stroke="#1c1c1c" stroke-width="1.55"/>
<line x1="341.4" y1="229.1" x2="341.4" y2="225.3" stroke="#111" stroke-width="1.1"/>
<line x1="351.65" y1="229.1" x2="351.65" y2="226.8" stroke="#111" stroke-width="1.1"/>
<line x1="361.9" y1="229.1" x2="361.9" y2="225.3" stroke="#111" stroke-width="1.1"/>
<line x1="372.15" y1="229.1" x2="372.15" y2="226.8" stroke="#111" stroke-width="1.1"/>
<line x1="382.4" y1="229.1" x2="382.4" y2="225.3" stroke="#111" stroke-width="1.1"/>
<line x1="392.65" y1="229.1" x2="392.65" y2="226.8" stroke="#111" stroke-width="1.1"/>
<line x1="402.9" y1="229.1" x2="402.9" y2="225.3" stroke="#111" stroke-width="1.1"/>
<line x1="413.15" y1="229.1" x2="413.15" y2="226.8" stroke="#111" stroke-width="1.1"/>
<line x1="423.4" y1="229.1" x2="423.4" y2="225.3" stroke="#111" stroke-width="1.1"/>
<line x1="433.65" y1="229.1" x2="433.65" y2="226.8" stroke="#111" stroke-width="1.1"/>
<line x1="443.9" y1="229.1" x2="443.9" y2="225.3" stroke="#111" stroke-width="1.1"/>
<line x1="454.15" y1="229.1" x2="454.15" y2="226.8" stroke="#111" stroke-width="1.1"/>
<line x1="464.4" y1="229.1" x2="464.4" y2="225.3" stroke="#111" stroke-width="1.1"/>
<line x1="474.65" y1="229.1" x2="474.65" y2="226.8" stroke="#111" stroke-width="1.1"/>
<line x1="484.9" y1="229.1" x2="484.9" y2="225.3" stroke="#111" stroke-width="1.1"/>
<line x1="495.15" y1="229.1" x2="495.15" y2="226.8" stroke="#111" stroke-width="1.1"/>
<line x1="505.4" y1="229.1" x2="505.4" y2="225.3" stroke="#111" stroke-width="1.1"/>
<text transform="translate(341.4,239.7) scale(0.92,1)" x="0" y="0" font-family="'Liberation Sans', sans-serif" font-size="9.1" font-weight="bold" text-anchor="middle" fill="#000">-200</text>
<text transform="translate(361.9,239.7) scale(0.92,1)" x="0" y="0" font-family="'Liberation Sans', sans-serif" font-size="9.1" font-weight="bold" text-anchor="middle" fill="#000">-150</text>
<text transform="translate(382.4,239.7) scale(0.92,1)" x="0" y="0" font-family="'Liberation Sans', sans-serif" font-size="9.1" font-weight="bold" text-anchor="middle" fill="#000">-100</text>
<text transform="translate(402.9,239.7) scale(0.92,1)" x="0" y="0" font-family="'Liberation Sans', sans-serif" font-size="9.1" font-weight="bold" text-anchor="middle" fill="#000">-50</text>
<text transform="translate(423.4,239.7) scale(0.92,1)" x="0" y="0" font-family="'Liberation Sans', sans-serif" font-size="9.1" font-weight="bold" text-anchor="middle" fill="#000">0</text>
<text transform="translate(443.9,239.7) scale(0.92,1)" x="0" y="0" font-family="'Liberation Sans', sans-serif" font-size="9.1" font-weight="bold" text-anchor="middle" fill="#000">50</text>
<text transform="translate(464.4,239.7) scale(0.92,1)" x="0" y="0" font-family="'Liberation Sans', sans-serif" font-size="9.1" font-weight="bold" text-anchor="middle" fill="#000">100</text>
<text transform="translate(484.9,239.7) scale(0.92,1)" x="0" y="0" font-family="'Liberation Sans', sans-serif" font-size="9.1" font-weight="bold" text-anchor="middle" fill="#000">150</text>
<text transform="translate(505.4,239.7) scale(0.92,1)" x="0" y="0" font-family="'Liberation Sans', sans-serif" font-size="9.1" font-weight="bold" text-anchor="middle" fill="#000">200</text>
<rect x="352.6" y="92.6" width="24.4" height="9.6" fill="#000"/>
<rect x="350.7" y="90.7" width="23.4" height="8.6" fill="#fff" stroke="#222" stroke-width="0.9"/>
<text transform="translate(352.7,97.7) scale(0.9,1)" x="0" y="0" font-family="'Liberation Sans', sans-serif" font-size="7.8" font-weight="bold" text-anchor="start" fill="#262626" textLength="21.67" lengthAdjust="spacing">22nm</text>
<rect x="353.1" y="196.8" width="24.4" height="9.5" fill="#000"/>
<rect x="351.2" y="194.9" width="23.4" height="8.5" fill="#fff" stroke="#222" stroke-width="0.9"/>
<text transform="translate(353.2,201.9) scale(0.9,1)" x="0" y="0" font-family="'Liberation Sans', sans-serif" font-size="7.8" font-weight="bold" text-anchor="start" fill="#262626" textLength="21.78" lengthAdjust="spacing">20nm</text>
<text transform="translate(406,108.2) scale(0.9,1)" x="0" y="0" font-family="'Liberation Sans', sans-serif" font-size="9" font-weight="bold" text-anchor="start" fill="#262626" textLength="74" lengthAdjust="spacing">Ag related peak</text>
<line x1="439.7" y1="96.7" x2="455.93" y2="57.13" stroke="#3c3c3c" stroke-width="0.95"/>
<polygon points="457.3,53.8 456.62,58.49 454.49,57.62" fill="#111"/>
<line x1="440.2" y1="114.1" x2="452.49" y2="151.88" stroke="#3c3c3c" stroke-width="0.95"/>
<polygon points="453.6,155.3 451.08,151.28 453.27,150.57" fill="#111"/>
<text x="316.5" y="11.2" font-family="'Liberation Sans', sans-serif" font-size="11.9" font-weight="bold" text-anchor="start" fill="#000" textLength="15.8" lengthAdjust="spacing">(b)</text>
<text transform="translate(327.6,122.5) rotate(-90) scale(0.96,1)" x="0" y="0" font-family="'Liberation Sans', sans-serif" font-size="12.4" font-weight="bold" text-anchor="middle" textLength="129.38" lengthAdjust="spacing">DCRC Intensity (a.u.)</text>
<text x="393.8" y="258" font-family="'Liberation Serif', serif" font-size="12.5" font-weight="bold" text-anchor="start" fill="#000" textLength="8.9" lengthAdjust="spacing">ω</text>
<text x="404.4" y="258" font-family="'Liberation Sans', sans-serif" font-size="12.4" font-weight="bold" text-anchor="start" fill="#000" textLength="48" lengthAdjust="spacing">(arcsec)</text>
<polyline points="547.72,129.77 548.22,129.72 548.71,129.66 549.21,129.59 549.7,129.52 550.19,129.45 550.67,129.37 551.16,129.29 551.64,129.2 552.12,129.11 552.6,129.01 553.08,128.91 553.55,128.81 554.03,128.7 554.5,128.58 554.97,128.47 555.43,128.35 555.9,128.22 556.36,128.09 556.83,127.96 557.29,127.83 557.75,127.69 558.2,127.54 558.66,127.4 559.11,127.25 559.57,127.1 560.02,126.94 560.47,126.78 560.92,126.62 561.36,126.45 561.81,126.28 562.25,126.11 562.7,125.94 563.14,125.76 563.58,125.58 564.02,125.4 564.46,125.21 564.9,125.02 565.33,124.83 565.77,124.64 566.2,124.44 566.63,124.24 567.07,124.04 567.5,123.84 567.93,123.64 568.36,123.43 568.79,123.22 569.22,123.01 569.64,122.8 570.07,122.58 570.5,122.37 570.92,122.15 571.35,121.93 571.77,121.71 572.19,121.49 572.62,121.26 573.04,121.04 573.46,120.81 573.88,120.58 574.3,120.35 574.72,120.12 575.15,119.89 575.57,119.66 575.99,119.42 576.41,119.19 576.83,118.95 577.25,118.72 577.66,118.48 578.08,118.24 578.5,118 578.92,117.76 579.34,117.52 579.76,117.28 580.18,117.04 580.6,116.8 581.02,116.56 581.44,116.32 581.86,116.08 582.28,115.84 582.7,115.6 583.12,115.36 583.54,115.12 583.96,114.88 584.38,114.63 584.81,114.39 585.23,114.15 585.65,113.91 586.07,113.67 586.49,113.42 586.91,113.18 587.33,112.94 587.75,112.69 588.17,112.45 588.59,112.2 589.01,111.95 589.43,111.71 589.85,111.46 590.27,111.21 590.68,110.97 591.1,110.72 591.52,110.47 591.93,110.22 592.35,109.96 592.76,109.71 593.18,109.46 593.59,109.2 594,108.95 594.41,108.69 594.82,108.43 595.23,108.17 595.64,107.91 596.05,107.65 596.46,107.39 596.86,107.13 597.27,106.86 597.67,106.6 598.07,106.33 598.47,106.06 598.87,105.79 599.27,105.52 599.67,105.24 600.06,104.97 600.46,104.69 600.85,104.41 601.24,104.14 601.63,103.85 602.02,103.57 602.4,103.29 602.79,103 603.17,102.71 603.55,102.42 603.93,102.13 604.31,101.83 604.68,101.54 605.06,101.24 605.43,100.94 605.8,100.64 606.17,100.33 606.53,100.03 606.9,99.72 607.26,99.41 607.62,99.09 607.97,98.78 608.33,98.46 608.68,98.14 609.03,97.81 609.38,97.49 609.72,97.16 610.07,96.83 610.41,96.5 610.75,96.16 611.08,95.83 611.41,95.48 611.74,95.14 612.07,94.8 612.4,94.45 612.72,94.1 613.04,93.74 613.35,93.39 613.67,93.03 613.98,92.66 614.29,92.3 614.6,91.93 614.9,91.57 615.2,91.19 615.5,90.82 615.8,90.45 616.09,90.07 616.38,89.69 616.67,89.3 616.95,88.92 617.24,88.53 617.52,88.14 617.8,87.75 618.07,87.36 618.34,86.96 618.61,86.56 618.88,86.16 619.15,85.76 619.41,85.36 619.67,84.95 619.93,84.55 620.18,84.14 620.43,83.73 620.68,83.31 620.93,82.9 621.18,82.48 621.42,82.06 621.66,81.64 621.9,81.22 622.13,80.8 622.36,80.37 622.59,79.95 622.82,79.52 623.05,79.09 623.27,78.66 623.49,78.22 623.71,77.79 623.92,77.36 624.13,76.92 624.34,76.48 624.55,76.04 624.76,75.6 624.96,75.16 625.16,74.71 625.36,74.27 625.55,73.82 625.75,73.38 625.94,72.93 626.13,72.48 626.31,72.03 626.49,71.58 626.68,71.13 626.85,70.67 627.03,70.22 627.2,69.76 627.37,69.31 627.54,68.85 627.71,68.39 627.87,67.93 628.04,67.47 628.2,67.01 628.35,66.55 628.51,66.09 628.66,65.63 628.81,65.16 628.96,64.7 629.1,64.24 629.24,63.77 629.39,63.31 629.52,62.84 629.66,62.37 629.79,61.91 629.92,61.44 630.05,60.97 630.18,60.5 630.3,60.04 630.43,59.57 630.55,59.1 630.66,58.63 630.78,58.16 630.89,57.69 631,57.22 631.11,56.75 631.21,56.28 631.32,55.81 631.42,55.34 631.52,54.87 631.62,54.4 631.71,53.93 631.8,53.46 631.89,52.99 631.98,52.52 632.07,52.05 632.15,51.58 632.23,51.11 632.31,50.64 632.38,50.17 632.46,49.7 632.53,49.24 632.6,48.77 632.67,48.3 632.73,47.83 632.8,47.36 632.86,46.9 632.92,46.43 632.98,45.96 633.04,45.5 633.1,45.03 633.15,44.56 633.21,44.09 633.26,43.62 633.31,43.15 633.37,42.68 633.42,42.21 633.47,41.74 633.52,41.27 633.57,40.8 633.62,40.33 633.67,39.86 633.72,39.38 633.77,38.91 633.83,38.43 633.88,37.95 633.93,37.47 633.98,36.99 634.04,36.51 634.09,36.03 634.15,35.55 634.21,35.06 634.27,34.58 634.33,34.09 634.39,33.6 634.45,33.11 634.52,32.61 634.59,32.12 634.66,31.62 634.73,31.12 634.8,30.62 634.88,30.12 634.96,29.62 635.05,29.13 635.15,28.63 635.26,28.15 635.39,27.67 635.52,27.2 635.68,26.75 635.85,26.31 636.05,25.88 636.26,25.47 636.5,25.08 636.77,24.71 637.06,24.37 637.39,24.04 637.74,23.75 638.13,23.48 638.55,23.24 638.99,23.03 639.45,22.85 639.93,22.7 640.42,22.58 640.92,22.49 641.43,22.43 641.94,22.4 642.44,22.4 642.94,22.44 643.42,22.51 643.89,22.61 644.34,22.75 644.76,22.93 645.16,23.13 645.53,23.38 645.86,23.65 646.16,23.97 646.43,24.31 646.67,24.67 646.89,25.07 647.08,25.48 647.26,25.91 647.42,26.36 647.57,26.82 647.71,27.29 647.83,27.76 647.95,28.25 648.07,28.73 648.19,29.21 648.3,29.69 648.42,30.17 648.53,30.65 648.64,31.13 648.75,31.61 648.86,32.09 648.97,32.57 649.07,33.05 649.18,33.52 649.28,34 649.39,34.48 649.49,34.95 649.59,35.43 649.69,35.9 649.79,36.37 649.89,36.85 649.99,37.32 650.09,37.79 650.19,38.27 650.28,38.74 650.38,39.21 650.48,39.68 650.57,40.15 650.67,40.62 650.76,41.09 650.86,41.56 650.95,42.03 651.04,42.5 651.14,42.97 651.23,43.43 651.33,43.9 651.42,44.37 651.51,44.84 651.61,45.3 651.7,45.77 651.79,46.24 651.89,46.7 651.98,47.17 652.08,47.64 652.17,48.1 652.27,48.57 652.36,49.03 652.46,49.5 652.56,49.96 652.66,50.43 652.75,50.89 652.85,51.35 652.95,51.82 653.05,52.28 653.15,52.75 653.25,53.21 653.36,53.67 653.46,54.14 653.56,54.6 653.67,55.07 653.77,55.53 653.88,55.99 653.99,56.46 654.1,56.92 654.21,57.38 654.32,57.85 654.44,58.31 654.55,58.77 654.67,59.24 654.79,59.7 654.9,60.16 655.02,60.63 655.15,61.09 655.27,61.56 655.39,62.02 655.52,62.48 655.65,62.95 655.78,63.41 655.91,63.87 656.04,64.34 656.17,64.8 656.31,65.26 656.45,65.73 656.58,66.19 656.72,66.65 656.86,67.11 657.01,67.58 657.15,68.04 657.3,68.5 657.44,68.96 657.59,69.42 657.74,69.88 657.89,70.34 658.05,70.8 658.2,71.26 658.36,71.72 658.51,72.18 658.67,72.64 658.83,73.1 658.99,73.56 659.16,74.02 659.32,74.47 659.49,74.93 659.66,75.39 659.83,75.84 660,76.3 660.17,76.75 660.35,77.21 660.52,77.66 660.7,78.12 660.88,78.57 661.06,79.02 661.24,79.47 661.43,79.92 661.61,80.37 661.8,80.82 661.99,81.27 662.18,81.72 662.37,82.17 662.57,82.62 662.76,83.06 662.96,83.51 663.16,83.95 663.36,84.4 663.56,84.84 663.76,85.28 663.97,85.73 664.17,86.17 664.38,86.61 664.59,87.05 664.8,87.48 665.02,87.92 665.23,88.36 665.45,88.79 665.66,89.23 665.88,89.66 666.11,90.09 666.33,90.53 666.55,90.96 666.78,91.39 667.01,91.82 667.24,92.24 667.47,92.67 667.7,93.1 667.94,93.52 668.17,93.94 668.41,94.37 668.65,94.79 668.89,95.21 669.14,95.63 669.38,96.04 669.63,96.46 669.88,96.88 670.13,97.29 670.38,97.7 670.63,98.11 670.89,98.52 671.14,98.93 671.4,99.34 671.66,99.75 671.93,100.15 672.19,100.56 672.46,100.96 672.72,101.36 672.99,101.76 673.26,102.16 673.54,102.55 673.81,102.95 674.09,103.34 674.37,103.74 674.65,104.13 674.93,104.52 675.21,104.91 675.5,105.29 675.78,105.68 676.07,106.06 676.36,106.44 676.66,106.82 676.95,107.2 677.25,107.58 677.54,107.95 677.84,108.33 678.14,108.7 678.45,109.07 678.75,109.44 679.06,109.81 679.37,110.17 679.68,110.53 679.99,110.9 680.31,111.26 680.62,111.62 680.94,111.97 681.26,112.33 681.58,112.68 681.91,113.03 682.23,113.38 682.56,113.73 682.89,114.07 683.22,114.42 683.55,114.76 683.89,115.1 684.22,115.43 684.56,115.77 684.9,116.1 685.25,116.44 685.59,116.77 685.94,117.09 686.28,117.42 686.63,117.74 686.99,118.06 687.34,118.38 687.7,118.7 688.05,119.02 688.41,119.33 688.77,119.64 689.14,119.95 689.5,120.26 689.87,120.56 690.24,120.86 690.61,121.16 690.98,121.46 691.36,121.76 691.74,122.05 692.11,122.34 692.5,122.63 692.88,122.92 693.26,123.2 693.65,123.48 694.04,123.76 694.43,124.04 694.82,124.31 695.22,124.59 695.61,124.86 696.01,125.12 696.41,125.39 696.82,125.65 697.22,125.91 697.63,126.17 698.04,126.42 698.45,126.68 698.86,126.93 699.28,127.17 699.69,127.42 700.11,127.66 700.53,127.9 700.95,128.14 701.38,128.37 701.81,128.6 702.24,128.83 702.67,129.06 703.1,129.28 703.54,129.5 703.97,129.72 704.41,129.94 704.85,130.15 705.3,130.36 705.74,130.57 706.19,130.77 706.64,130.97" fill="none" stroke="#f01010" stroke-width="1.4" stroke-linejoin="round"/>
<polyline points="547.5,226.73 547.93,226.48 548.36,226.23 548.79,225.98 549.22,225.74 549.65,225.5 550.09,225.27 550.52,225.04 550.96,224.81 551.4,224.59 551.84,224.37 552.28,224.15 552.72,223.94 553.17,223.73 553.61,223.52 554.06,223.31 554.51,223.11 554.95,222.91 555.4,222.71 555.85,222.52 556.31,222.33 556.76,222.14 557.21,221.95 557.67,221.76 558.12,221.58 558.58,221.4 559.03,221.22 559.49,221.04 559.95,220.86 560.41,220.69 560.87,220.51 561.33,220.34 561.79,220.17 562.25,220 562.71,219.83 563.17,219.66 563.63,219.49 564.09,219.32 564.55,219.16 565.02,218.99 565.48,218.83 565.94,218.66 566.41,218.49 566.87,218.33 567.33,218.16 567.79,218 568.26,217.83 568.72,217.67 569.18,217.5 569.65,217.34 570.11,217.17 570.57,217 571.03,216.83 571.49,216.66 571.95,216.49 572.42,216.32 572.88,216.15 573.34,215.97 573.79,215.8 574.25,215.62 574.71,215.44 575.17,215.26 575.63,215.08 576.08,214.9 576.54,214.71 576.99,214.53 577.44,214.34 577.9,214.14 578.35,213.95 578.8,213.76 579.25,213.56 579.7,213.36 580.15,213.16 580.6,212.95 581.04,212.75 581.49,212.54 581.93,212.33 582.38,212.12 582.82,211.9 583.26,211.69 583.7,211.47 584.14,211.25 584.58,211.03 585.02,210.8 585.45,210.58 585.89,210.35 586.32,210.12 586.76,209.88 587.19,209.65 587.62,209.41 588.05,209.17 588.48,208.93 588.9,208.69 589.33,208.45 589.76,208.2 590.18,207.95 590.6,207.7 591.02,207.45 591.44,207.19 591.86,206.93 592.28,206.67 592.69,206.41 593.11,206.15 593.52,205.88 593.93,205.62 594.34,205.35 594.75,205.07 595.16,204.8 595.57,204.52 595.97,204.25 596.37,203.97 596.78,203.68 597.18,203.4 597.57,203.11 597.97,202.83 598.37,202.53 598.76,202.24 599.15,201.95 599.54,201.65 599.93,201.35 600.32,201.05 600.71,200.75 601.09,200.44 601.47,200.14 601.86,199.83 602.23,199.51 602.61,199.2 602.99,198.89 603.36,198.57 603.73,198.25 604.11,197.93 604.47,197.6 604.84,197.28 605.21,196.95 605.57,196.62 605.93,196.29 606.29,195.95 606.65,195.61 607.01,195.28 607.36,194.93 607.71,194.59 608.06,194.25 608.41,193.9 608.76,193.55 609.1,193.2 609.45,192.85 609.79,192.49 610.13,192.13 610.47,191.78 610.8,191.42 611.14,191.06 611.47,190.69 611.81,190.33 612.14,189.97 612.47,189.6 612.8,189.24 613.13,188.87 613.46,188.5 613.79,188.14 614.12,187.77 614.45,187.4 614.78,187.03 615.1,186.67 615.43,186.3 615.76,185.93 616.09,185.56 616.41,185.2 616.74,184.83 617.07,184.46 617.4,184.1 617.73,183.73 618.06,183.37 618.39,183.01 618.72,182.65 619.06,182.29 619.39,181.93 619.72,181.57 620.06,181.21 620.39,180.85 620.72,180.49 621.05,180.12 621.37,179.76 621.7,179.39 622.02,179.02 622.34,178.65 622.65,178.28 622.96,177.9 623.27,177.51 623.57,177.12 623.86,176.73 624.15,176.33 624.44,175.93 624.72,175.53 624.99,175.12 625.26,174.7 625.53,174.28 625.79,173.86 626.04,173.44 626.28,173.01 626.53,172.58 626.76,172.14 626.99,171.71 627.22,171.26 627.43,170.82 627.64,170.38 627.85,169.93 628.05,169.48 628.24,169.03 628.43,168.57 628.61,168.12 628.79,167.66 628.96,167.2 629.12,166.74 629.28,166.27 629.44,165.81 629.59,165.34 629.74,164.88 629.88,164.41 630.02,163.94 630.16,163.47 630.29,162.99 630.42,162.52 630.55,162.05 630.68,161.57 630.8,161.1 630.93,160.62 631.05,160.14 631.16,159.67 631.28,159.19 631.4,158.71 631.51,158.23 631.63,157.75 631.74,157.27 631.85,156.79 631.96,156.31 632.07,155.83 632.18,155.34 632.28,154.86 632.39,154.38 632.49,153.9 632.6,153.42 632.7,152.93 632.8,152.45 632.9,151.97 633,151.49 633.1,151 633.19,150.52 633.29,150.04 633.38,149.56 633.48,149.07 633.57,148.59 633.66,148.11 633.75,147.63 633.85,147.15 633.94,146.67 634.02,146.19 634.11,145.71 634.2,145.23 634.29,144.75 634.38,144.27 634.46,143.79 634.55,143.31 634.63,142.83 634.71,142.35 634.79,141.88 634.87,141.4 634.94,140.92 635.01,140.44 635.08,139.95 635.15,139.47 635.21,138.99 635.27,138.5 635.32,138.02 635.38,137.53 635.42,137.04 635.46,136.55 635.5,136.05 635.53,135.56 635.56,135.06 635.59,134.56 635.61,134.06 635.63,133.56 635.65,133.06 635.67,132.56 635.69,132.05 635.71,131.55 635.73,131.05 635.75,130.54 635.78,130.04 635.81,129.54 635.84,129.04 635.89,128.55 635.93,128.05 635.99,127.56 636.05,127.06 636.12,126.58 636.2,126.09 636.29,125.61 636.39,125.13 636.5,124.65 636.62,124.18 636.75,123.71 636.9,123.25 637.07,122.79 637.24,122.33 637.44,121.89 637.65,121.44 637.88,121.01 638.12,120.59 638.38,120.17 638.66,119.78 638.96,119.4 639.28,119.05 639.61,118.71 639.97,118.4 640.34,118.12 640.74,117.87 641.15,117.65 641.59,117.47 642.04,117.32 642.52,117.21 643.01,117.14 643.51,117.11 644.02,117.11 644.52,117.16 645.02,117.24 645.51,117.36 645.98,117.52 646.44,117.71 646.88,117.93 647.31,118.18 647.71,118.47 648.1,118.77 648.48,119.1 648.83,119.45 649.17,119.81 649.49,120.19 649.79,120.58 650.08,120.98 650.34,121.39 650.59,121.81 650.82,122.23 651.04,122.66 651.23,123.1 651.42,123.54 651.59,123.99 651.74,124.44 651.89,124.9 652.02,125.36 652.14,125.83 652.25,126.3 652.34,126.78 652.43,127.26 652.51,127.75 652.59,128.23 652.65,128.72 652.71,129.22 652.77,129.71 652.82,130.21 652.86,130.71 652.9,131.21 652.94,131.71 652.97,132.21 653.01,132.72 653.04,133.22 653.07,133.73 653.11,134.23 653.14,134.74 653.18,135.24 653.22,135.74 653.26,136.24 653.31,136.74 653.36,137.24 653.42,137.73 653.48,138.23 653.55,138.72 653.62,139.21 653.69,139.7 653.78,140.18 653.86,140.67 653.95,141.15 654.04,141.63 654.14,142.11 654.24,142.59 654.34,143.07 654.45,143.55 654.56,144.02 654.67,144.5 654.78,144.97 654.9,145.44 655.02,145.92 655.14,146.39 655.27,146.86 655.39,147.33 655.52,147.8 655.65,148.27 655.78,148.74 655.91,149.21 656.04,149.68 656.17,150.14 656.3,150.61 656.44,151.08 656.57,151.55 656.7,152.02 656.84,152.49 656.97,152.96 657.1,153.43 657.23,153.9 657.37,154.37 657.5,154.84 657.63,155.31 657.76,155.79 657.89,156.26 658.02,156.73 658.16,157.2 658.29,157.68 658.42,158.15 658.55,158.62 658.68,159.09 658.81,159.57 658.94,160.04 659.08,160.51 659.21,160.99 659.34,161.46 659.47,161.94 659.61,162.41 659.74,162.88 659.88,163.36 660.01,163.83 660.15,164.3 660.28,164.78 660.42,165.25 660.56,165.72 660.7,166.19 660.84,166.67 660.98,167.14 661.12,167.61 661.26,168.08 661.4,168.55 661.55,169.02 661.69,169.5 661.84,169.97 661.99,170.44 662.14,170.91 662.29,171.37 662.44,171.84 662.59,172.31 662.74,172.78 662.9,173.25 663.06,173.71 663.21,174.18 663.37,174.65 663.54,175.11 663.7,175.58 663.86,176.04 664.03,176.5 664.2,176.97 664.37,177.43 664.54,177.89 664.71,178.35 664.89,178.81 665.06,179.27 665.24,179.73 665.43,180.18 665.61,180.64 665.79,181.1 665.98,181.55 666.17,182.01 666.36,182.46 666.56,182.91 666.76,183.36 666.95,183.81 667.16,184.26 667.36,184.71 667.57,185.16 667.78,185.6 667.99,186.05 668.2,186.49 668.42,186.93 668.64,187.38 668.86,187.82 669.08,188.25 669.31,188.69 669.54,189.13 669.77,189.56 670.01,189.99 670.24,190.42 670.48,190.85 670.73,191.28 670.97,191.71 671.22,192.13 671.47,192.55 671.73,192.97 671.99,193.39 672.25,193.81 672.51,194.22 672.77,194.64 673.04,195.05 673.32,195.46 673.59,195.86 673.87,196.27 674.15,196.67 674.43,197.07 674.72,197.46 675.01,197.86 675.3,198.25 675.6,198.64 675.9,199.03 676.2,199.41 676.51,199.79 676.82,200.17 677.13,200.55 677.44,200.92 677.76,201.29 678.08,201.66 678.41,202.03 678.74,202.39 679.07,202.75 679.41,203.11 679.74,203.46 680.09,203.81 680.43,204.16 680.78,204.5 681.13,204.85 681.48,205.19 681.84,205.52 682.2,205.86 682.56,206.19 682.93,206.52 683.29,206.85 683.66,207.17 684.03,207.5 684.4,207.82 684.78,208.14 685.15,208.46 685.53,208.78 685.91,209.09 686.29,209.41 686.68,209.72 687.06,210.03 687.44,210.35 687.83,210.66 688.22,210.96 688.6,211.27 688.99,211.58 689.38,211.89 689.77,212.19 690.16,212.5 690.55,212.81 690.94,213.11 691.33,213.42 691.72,213.72 692.11,214.03 692.5,214.33 692.89,214.64 693.27,214.94 693.66,215.25 694.05,215.55 694.44,215.86 694.82,216.17 695.21,216.48 695.59,216.79 695.97,217.1 696.35,217.41 696.73,217.72 697.11,218.03 697.49,218.35 697.86,218.66 698.23,218.98 698.61,219.3 698.98,219.62 699.35,219.94 699.71,220.26 700.08,220.58 700.45,220.9 700.81,221.22 701.18,221.55 701.55,221.87 701.92,222.19 702.28,222.51 702.65,222.83 703.02,223.15 703.39,223.47 703.76,223.79 704.13,224.1 704.51,224.42 704.88,224.73 705.26,225.04 705.64,225.35 706.02,225.66 706.4,225.97 706.79,226.27 707.18,226.57 707.57,226.87 707.97,227.17 708.37,227.46 708.77,227.75 709.18,228.04 709.59,228.32 710,228.6" fill="none" stroke="#1010f0" stroke-width="1.5" stroke-linejoin="round"/>
<rect x="547" y="1" width="171" height="227" fill="none" stroke="#1c1c1c" stroke-width="1.55"/>
<line x1="547" y1="228" x2="547" y2="224.2" stroke="#111" stroke-width="1.1"/>
<line x1="559.19" y1="228" x2="559.19" y2="225.7" stroke="#111" stroke-width="1.1"/>
<line x1="571.39" y1="228" x2="571.39" y2="224.2" stroke="#111" stroke-width="1.1"/>
<line x1="583.58" y1="228" x2="583.58" y2="225.7" stroke="#111" stroke-width="1.1"/>
<line x1="595.77" y1="228" x2="595.77" y2="224.2" stroke="#111" stroke-width="1.1"/>
<line x1="607.96" y1="228" x2="607.96" y2="225.7" stroke="#111" stroke-width="1.1"/>
<line x1="620.16" y1="228" x2="620.16" y2="224.2" stroke="#111" stroke-width="1.1"/>
<line x1="632.35" y1="228" x2="632.35" y2="225.7" stroke="#111" stroke-width="1.1"/>
<line x1="644.54" y1="228" x2="644.54" y2="224.2" stroke="#111" stroke-width="1.1"/>
<line x1="656.74" y1="228" x2="656.74" y2="225.7" stroke="#111" stroke-width="1.1"/>
<line x1="668.93" y1="228" x2="668.93" y2="224.2" stroke="#111" stroke-width="1.1"/>
<line x1="681.12" y1="228" x2="681.12" y2="225.7" stroke="#111" stroke-width="1.1"/>
<line x1="693.31" y1="228" x2="693.31" y2="224.2" stroke="#111" stroke-width="1.1"/>
<line x1="705.51" y1="228" x2="705.51" y2="225.7" stroke="#111" stroke-width="1.1"/>
<line x1="717.7" y1="228" x2="717.7" y2="224.2" stroke="#111" stroke-width="1.1"/>
<text transform="translate(547,238.9) scale(0.92,1)" x="0" y="0" font-family="'Liberation Sans', sans-serif" font-size="9.1" font-weight="bold" text-anchor="middle" fill="#000">-200</text>
<text transform="translate(571.39,238.9) scale(0.92,1)" x="0" y="0" font-family="'Liberation Sans', sans-serif" font-size="9.1" font-weight="bold" text-anchor="middle" fill="#000">-150</text>
<text transform="translate(595.77,238.9) scale(0.92,1)" x="0" y="0" font-family="'Liberation Sans', sans-serif" font-size="9.1" font-weight="bold" text-anchor="middle" fill="#000">-100</text>
<text transform="translate(620.16,238.9) scale(0.92,1)" x="0" y="0" font-family="'Liberation Sans', sans-serif" font-size="9.1" font-weight="bold" text-anchor="middle" fill="#000">-50</text>
<text transform="translate(644.54,238.9) scale(0.92,1)" x="0" y="0" font-family="'Liberation Sans', sans-serif" font-size="9.1" font-weight="bold" text-anchor="middle" fill="#000">0</text>
<text transform="translate(668.93,238.9) scale(0.92,1)" x="0" y="0" font-family="'Liberation Sans', sans-serif" font-size="9.1" font-weight="bold" text-anchor="middle" fill="#000">50</text>
<text transform="translate(693.31,238.9) scale(0.92,1)" x="0" y="0" font-family="'Liberation Sans', sans-serif" font-size="9.1" font-weight="bold" text-anchor="middle" fill="#000">100</text>
<text transform="translate(717.7,238.9) scale(0.92,1)" x="0" y="0" font-family="'Liberation Sans', sans-serif" font-size="9.1" font-weight="bold" text-anchor="middle" fill="#000">150</text>
<rect x="692.8" y="100.2" width="24.8" height="9.9" fill="#000"/>
<rect x="690.9" y="98.3" width="23.8" height="8.9" fill="#fff" stroke="#222" stroke-width="0.9"/>
<text transform="translate(693,105.7) scale(0.9,1)" x="0" y="0" font-family="'Liberation Sans', sans-serif" font-size="7.8" font-weight="bold" text-anchor="start" fill="#262626" textLength="22.22" lengthAdjust="spacing">22nm</text>
<rect x="693.5" y="192.3" width="24.9" height="10.1" fill="#000"/>
<rect x="691.6" y="190.4" width="23.9" height="9.1" fill="#fff" stroke="#222" stroke-width="0.9"/>
<text transform="translate(693.8,197.8) scale(0.9,1)" x="0" y="0" font-family="'Liberation Sans', sans-serif" font-size="7.8" font-weight="bold" text-anchor="start" fill="#262626" textLength="22.56" lengthAdjust="spacing">20nm</text>
<text transform="translate(549.7,48.8) scale(0.87,1)" x="0" y="0" font-family="'Liberation Sans', sans-serif" font-size="9" font-weight="bold" text-anchor="start" fill="#262626" textLength="90.46" lengthAdjust="spacing">FWHM-30.29 (arcsec)</text>
<text transform="translate(549.9,153.9) scale(0.87,1)" x="0" y="0" font-family="'Liberation Sans', sans-serif" font-size="9" font-weight="bold" text-anchor="start" fill="#262626" textLength="91.38" lengthAdjust="spacing">FWHM-29.95 (arcsec)</text>
<text x="519.4" y="12.1" font-family="'Liberation Sans', sans-serif" font-size="11.9" font-weight="bold" text-anchor="start" fill="#000" textLength="15" lengthAdjust="spacing">(c)</text>
<text transform="translate(532.3,129.0) rotate(-90) scale(0.96,1)" x="0" y="0" font-family="'Liberation Sans', sans-serif" font-size="12.8" font-weight="bold" text-anchor="middle" textLength="124.58" lengthAdjust="spacing">TAD Intensity (a.u.)</text>
<text x="592.1" y="257.9" font-family="'Liberation Serif', serif" font-size="11.8" font-weight="bold" text-anchor="start" fill="#000" textLength="26.5" lengthAdjust="spacing">ω–2θ</text>
<text x="622.4" y="257.9" font-family="'Liberation Sans', sans-serif" font-size="12.6" font-weight="bold" text-anchor="start" fill="#000" textLength="49.3" lengthAdjust="spacing">(arcsec)</text>
</svg>
</body></html>
